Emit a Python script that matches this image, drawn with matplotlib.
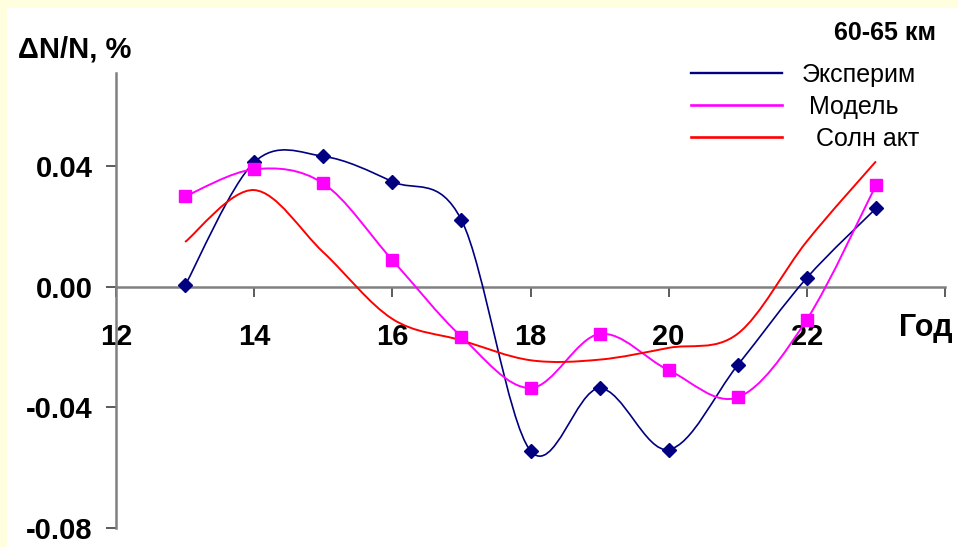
import matplotlib
matplotlib.use("Agg")
import matplotlib.pyplot as plt
from matplotlib.path import Path
from matplotlib.patches import PathPatch, Rectangle
from matplotlib.lines import Line2D

plt.rcParams['font.family'] = ['Liberation Sans', 'DejaVu Sans']
plt.rcParams['axes.unicode_minus'] = False

years = [13, 14, 15, 16, 17, 18, 19, 20, 21, 22, 23]
experim = [0.0004, 0.0412, 0.0432, 0.0348, 0.0221, -0.0544, -0.0337, -0.0540, -0.0260, 0.0029, 0.0259]
model = [0.0299, 0.0389, 0.0342, 0.0088, -0.0166, -0.0336, -0.0157, -0.0277, -0.0367, -0.0109, 0.0336]
solar = [0.0148, 0.0320, 0.0114, -0.0107, -0.0178, -0.0244, -0.0242, -0.0203, -0.0156, 0.0150, 0.0415]

labels = ['Эксперим', ' Модель', '  Солн акт']
xticks = [12, 14, 16, 18, 20, 22, 24]
xtick_labels = ['12', '14', '16', '18', '20', '22', '']
yticks = [-0.08, -0.04, 0.0, 0.04]
ytick_labels = ['-0.08', '-0.04', '0.00', '0.04']


def smooth_path(xs, ys):
    # excel-like smoothed line: catmull-rom as cubic bezier
    pts = list(zip(xs, ys))
    verts = [pts[0]]
    codes = [Path.MOVETO]
    n = len(pts)
    for i in range(n - 1):
        p0 = pts[i - 1] if i > 0 else pts[i]
        p1 = pts[i]
        p2 = pts[i + 1]
        p3 = pts[i + 2] if i + 2 < n else pts[i + 1]
        c1 = (p1[0] + (p2[0] - p0[0]) / 6, p1[1] + (p2[1] - p0[1]) / 6)
        c2 = (p2[0] - (p3[0] - p1[0]) / 6, p2[1] - (p3[1] - p1[1]) / 6)
        verts += [c1, c2, p2]
        codes += [Path.CURVE4] * 3
    return Path(verts, codes)


fig = plt.figure(figsize=(9.58, 5.47), dpi=100, facecolor='#FFFFE0')
fig.patches.append(Rectangle((7 / 958, 0), 1, 1 - 8 / 547, transform=fig.transFigure,
                             facecolor='white', edgecolor='none', zorder=-10))

ax = fig.add_axes([116 / 958, 19 / 547, 829 / 958, 455 / 547])
ax.set_facecolor('none')
ax.set_xlim(12, 24)
ax.set_ylim(-0.08, 0.0708)

series = [
    (experim, '#000080', 1.2, 'D', 7.5),
    (model, '#FF00FF', 1.4, 's', 8.5),
    (solar, '#FF0000', 1.4, None, 0),
]
handles = []
for vals, col, lw, mk, ms in series:
    ax.add_patch(PathPatch(smooth_path(years, vals), facecolor='none', edgecolor=col, lw=lw, zorder=3))
    if mk:
        ax.plot(years, vals, linestyle='none', marker=mk, ms=ms, color=col, zorder=4)
    handles.append(Line2D([], [], color=col, lw=lw + 0.5))

for s in ['top', 'right']:
    ax.spines[s].set_visible(False)
ax.spines['bottom'].set_position(('data', 0))
for s in ['left', 'bottom']:
    ax.spines[s].set_color('#808080')
    ax.spines[s].set_linewidth(1.8)

ax.set_xticks(xticks)
ax.set_xticklabels(xtick_labels)
ax.set_yticks(yticks)
ax.set_yticklabels(ytick_labels)
ax.tick_params(axis='both', direction='out', length=7, width=1.2, color='#404040',
               labelsize=21)
ax.tick_params(axis='x', pad=19)
ax.tick_params(axis='y', pad=10)
for t in ax.get_xticklabels() + ax.get_yticklabels():
    t.set_fontweight('bold')

fig.text(18 / 958, 1 - 50 / 547, 'ΔN/N, %', fontsize=21, fontweight='bold', va='center', ha='left')
fig.text(936 / 958, 1 - 33 / 547, '60-65 км', fontsize=18, fontweight='bold', va='center', ha='right')
fig.text(953 / 958, 1 - 328 / 547, 'Год', fontsize=22, fontweight='bold', va='center', ha='right')

fig.legend(handles, labels, loc='upper left', bbox_to_anchor=(691 / 958, 1 - 63 / 547),
           frameon=False, fontsize=18, handlelength=3.64, handletextpad=0.8,
           labelspacing=0.32, borderpad=0, borderaxespad=0)

fig.savefig('out.png', dpi=100, facecolor=fig.get_facecolor())
